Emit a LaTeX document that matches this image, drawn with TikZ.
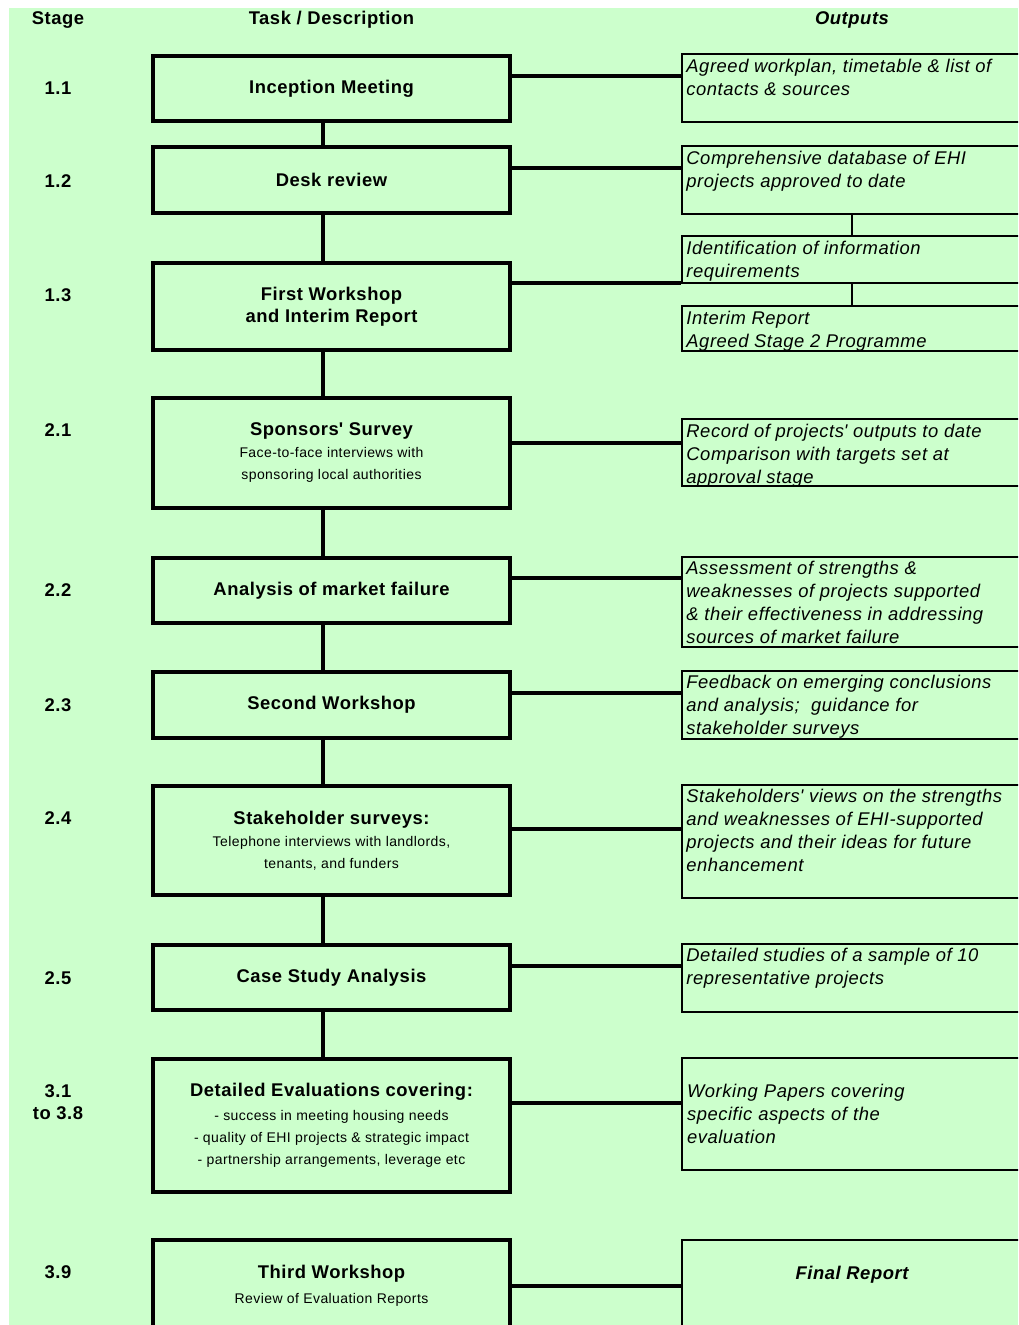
\documentclass[tikz,border=0pt]{standalone}
\usepackage{fontspec}
\setmainfont{Liberation Sans}[LetterSpace=3]
\usetikzlibrary{calc}
\definecolor{bgreen}{HTML}{CCFFCC}

\newcommand\taskfont{\fontsize{9.2}{11}\selectfont\bfseries}
\newcommand\subfont{\fontsize{7}{11}\selectfont}
\newcommand\outfont{\fontsize{9.2}{11.5}\selectfont\itshape}

\tikzset{
  taskbox/.style={draw, line width=2pt, minimum width=178.5pt, align=center, inner sep=0pt, font=\subfont},
  outbox/.style={draw, line width=1pt, minimum width=170pt, inner sep=0pt},
  outtext/.style={label={[anchor=north west, align=left, font=\outfont, inner sep=2.5pt]north west:{#1}}},
  stagelbl/.style={align=center, font=\taskfont},
  conn/.style={line width=2pt},
  link/.style={line width=1pt}
}

\begin{document}
\begin{tikzpicture}[x=0.5pt, y=-0.5pt]
		\useasboundingbox (0,0) rectangle (1018,1325);
		\clip (0,0) rectangle (1018,1325);
		\fill[bgreen] (9,8) rectangle (1018,1325);
		% column heads
		\node[font=\taskfont] (hstage) at (58,20) {Stage};
		\node[font=\taskfont] (htask) at (331.5,20) {Task / Description};
		\node[font=\taskfont\itshape] (hout) at (852,20) {Outputs};
		% stages
		\node[stagelbl] (s1) at (58,88) {1.1};
		\node[stagelbl] (s2) at (58,181) {1.2};
		\node[stagelbl] (s3) at (58,295) {1.3};
		\node[stagelbl] (s4) at (58,430) {2.1};
		\node[stagelbl] (s5) at (58,590) {2.2};
		\node[stagelbl] (s6) at (58,705) {2.3};
		\node[stagelbl] (s7) at (58,818) {2.4};
		\node[stagelbl] (s8) at (58,978) {2.5};
		\node[stagelbl] (s9) at (58,1102.5) {3.1\\to 3.8};
		\node[stagelbl] (s10) at (58,1272) {3.9};
		% tasks
		\node[taskbox, minimum height=32.5pt] (t1) at (331.5,88.5) {\taskfont Inception Meeting};
		\node[taskbox, minimum height=33pt] (t2) at (331.5,180) {\taskfont Desk review};
		\node[taskbox, minimum height=43.5pt, font=\taskfont] (t3) at (331.5,306.5) {First Workshop\\and Interim Report};
		\node[taskbox, minimum height=55pt] (t4) at (331.5,453) {{\taskfont Sponsors\textquotesingle\ Survey}\\Face-to-face interviews with\\sponsoring local authorities};
		\node[taskbox, minimum height=32.5pt] (t5) at (331.5,590.5) {\taskfont Analysis of market failure};
		\node[taskbox, minimum height=33pt] (t6) at (331.5,705) {\taskfont Second Workshop};
		\node[taskbox, minimum height=54.5pt] (t7) at (331.5,840.5) {{\taskfont Stakeholder surveys:}\\Telephone interviews with landlords,\\tenants, and funders};
		\node[taskbox, minimum height=32.5pt] (t8) at (331.5,977.5) {\taskfont Case Study Analysis};
		\node[taskbox, minimum height=66.5pt] (t9) at (331.5,1125.5) {{\taskfont Detailed Evaluations covering:}\\[1pt]- success in meeting housing needs\\- quality of EHI projects \& strategic impact\\- partnership arrangements, leverage etc};
		\node[taskbox, minimum height=45.5pt] (t10) at (331.5,1285.5) {{\taskfont Third Workshop}\\[1.5pt]Review of Evaluation Reports};
		% outputs
		\node[outbox, minimum height=34pt, outtext={Agreed workplan, timetable \& list of\\contacts \& sources}] (o1) at (852,88.5) {};
		\node[outbox, minimum height=34pt, outtext={Comprehensive database of EHI\\projects approved to date}] (o2) at (852,180.5) {};
		\node[outbox, minimum height=23.5pt, outtext={Identification of information\\requirements}] (o3) at (852,260) {};
		\node[outbox, minimum height=22.5pt, outtext={Interim Report\\Agreed Stage 2 Programme}] (o4) at (852,329) {};
		\node[outbox, minimum height=33.5pt, outtext={Record of projects\textquotesingle\ outputs to date\\Comparison with targets set at\\approval stage}] (o5) at (852,453) {};
		\node[outbox, minimum height=45pt, outtext={Assessment of strengths \&\\weaknesses of projects supported\\\& their effectiveness in addressing\\sources of market failure}] (o6) at (852,601.5) {};
		\node[outbox, minimum height=34pt, outtext={Feedback on emerging conclusions\\and analysis;\ \ guidance for\\stakeholder surveys}] (o7) at (852,704.5) {};
		\node[outbox, minimum height=56.5pt, outtext={Stakeholders\textquotesingle\ views on the strengths\\and weaknesses of EHI-supported\\projects and their ideas for future\\enhancement}] (o8) at (852,841) {};
		\node[outbox, minimum height=34pt, outtext={Detailed studies of a sample of 10\\representative projects}] (o9) at (852,977.5) {};
		\node[outbox, minimum height=56pt, text width=165pt, inner sep=2.5pt, align=left, font=\outfont] (o10) at (852,1113.5) {Working Papers covering\\specific aspects of the\\evaluation};
		\node[outbox, minimum height=45.5pt] (o11) at (852,1285.5) {};
		\node[font=\outfont\bfseries] (o11t) at ([yshift=5.5pt]o11.center) {Final Report};
		% task spine
		\draw[conn] ([xshift=-4.25pt]t1.south) -- ([xshift=-4.25pt]t2.north);
		\draw[conn] ([xshift=-4.25pt]t2.south) -- ([xshift=-4.25pt]t3.north);
		\draw[conn] ([xshift=-4.25pt]t3.south) -- ([xshift=-4.25pt]t4.north);
		\draw[conn] ([xshift=-4.25pt]t4.south) -- ([xshift=-4.25pt]t5.north);
		\draw[conn] ([xshift=-4.25pt]t5.south) -- ([xshift=-4.25pt]t6.north);
		\draw[conn] ([xshift=-4.25pt]t6.south) -- ([xshift=-4.25pt]t7.north);
		\draw[conn] ([xshift=-4.25pt]t7.south) -- ([xshift=-4.25pt]t8.north);
		\draw[conn] ([xshift=-4.25pt]t8.south) -- ([xshift=-4.25pt]t9.north);
		% task to output
		\draw[conn] ([yshift=6.25pt]t1.east) -- ([yshift=6.25pt]t1.east -| o1.west);
		\draw[conn] ([yshift=6pt]t2.east) -- ([yshift=6pt]t2.east -| o2.west);
		\draw[conn] ([yshift=11.75pt]t3.east) -- ([yshift=11.75pt]t3.east -| o3.west);
		\draw[conn] ([yshift=5pt]t4.east) -- ([yshift=5pt]t4.east -| o5.west);
		\draw[conn] ([yshift=6.25pt]t5.east) -- ([yshift=6.25pt]t5.east -| o6.west);
		\draw[conn] ([yshift=6pt]t6.east) -- ([yshift=6pt]t6.east -| o7.west);
		\draw[conn] ([yshift=5.75pt]t7.east) -- ([yshift=5.75pt]t7.east -| o8.west);
		\draw[conn] ([yshift=5.75pt]t8.east) -- ([yshift=5.75pt]t8.east -| o9.west);
		\draw[conn] ([yshift=11.25pt]t9.east) -- ([yshift=11.25pt]t9.east -| o10.west);
		\draw[conn] (t10.east) -- (t10.east -| o11.west);
		% output links
		\draw[link] (o2.south) -- (o3.north);
		\draw[link] (o3.south) -- (o4.north);
\end{tikzpicture}
\end{document}
